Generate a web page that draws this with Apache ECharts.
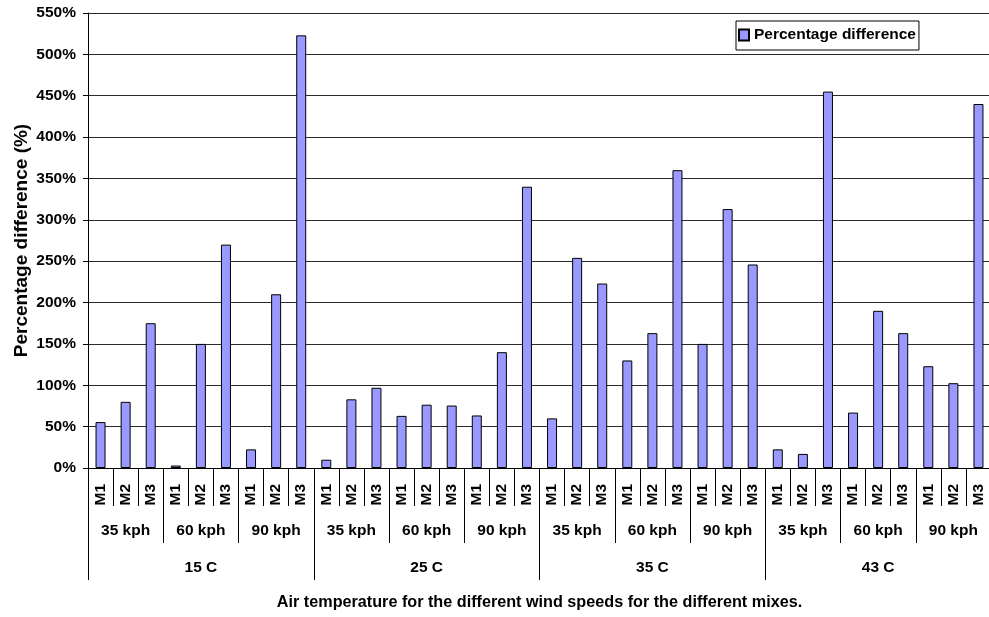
<!DOCTYPE html>
<html>
<head>
<meta charset="utf-8">
<script src="https://cdn.jsdelivr.net/npm/echarts@6/dist/echarts.min.js"></script>
<style>
  html, body { margin: 0; padding: 0; background: #fff; }
  #chart { width: 989px; height: 617px; }
</style>
</head>
<body>
<div id="chart"></div>
<script>
// Percentage difference per mix, grouped by wind speed and air temperature
const temperatures = ['15 C', '25 C', '35 C', '43 C'];
const windSpeeds = ['35 kph', '60 kph', '90 kph'];
const mixes = ['M1', 'M2', 'M3'];
const yTicks = [0, 50, 100, 150, 200, 250, 300, 350, 400, 450, 500, 550];

// order: temperature -> wind speed -> mix
const percentDiff = [
  55.5, 80, 175,   3, 150, 270,   22.5, 210, 523,
  10, 83, 97,      63, 76.5, 75.5, 63.5, 140, 340,
  60, 254, 223,    130, 163, 360, 150, 313, 246,
  22.5, 17, 455,   67, 190, 163,  123, 102.5, 440
];

const seriesName = 'Percentage difference';
const xTitle = 'Air temperature for the different wind speeds for the different mixes.';
const yTitle = 'Percentage difference (%)';

// category lists for the three label rows
const mixCats = [];
const speedCats = [];
temperatures.forEach(t => {
  windSpeeds.forEach(w => {
    speedCats.push(w);
    mixes.forEach(m => mixCats.push(m));
  });
});

const FONT = 'Liberation Sans, Arial, sans-serif';
const labelStyle = { fontFamily: FONT, fontWeight: 'bold', fontSize: 15.5, color: '#000' };

const chart = echarts.init(document.getElementById('chart'), null, { renderer: 'canvas' });

chart.setOption({
  animation: false,
  backgroundColor: '#fff',
  grid: {
    left: 88, top: 13, width: 903, height: 455,
    containLabel: false, outerBoundsMode: 'none'
  },
  legend: {
    data: [seriesName],
    left: 736, top: 21,
    padding: [6, 3, 7, 2],
    itemWidth: 10, itemHeight: 11, itemGap: 0, itemTextGap: 5,
    backgroundColor: '#fff',
    borderColor: '#000', borderWidth: 1, borderRadius: 0,
    icon: 'rect',
    textStyle: { fontFamily: FONT, fontWeight: 'bold', fontSize: 15.5, color: '#000' }
  },
  xAxis: [
    {
      type: 'category',
      data: mixCats,
      position: 'bottom',
      boundaryGap: true,
      axisLine: { show: true, lineStyle: { color: '#000', width: 1 } },
      axisTick: { show: true, interval: 0, length: 38, lineStyle: { color: '#000', width: 1 } },
      axisLabel: Object.assign({ interval: 0, rotate: 90, margin: 16 }, labelStyle),
      splitLine: { show: false }
    },
    {
      type: 'category',
      data: speedCats,
      position: 'bottom',
      boundaryGap: true,
      axisLine: { show: false },
      axisTick: { show: true, interval: 0, length: 75, lineStyle: { color: '#000', width: 1 } },
      axisLabel: Object.assign({ interval: 0, margin: 55 }, labelStyle),
      splitLine: { show: false }
    },
    {
      type: 'category',
      data: temperatures,
      position: 'bottom',
      boundaryGap: true,
      axisLine: { show: false },
      axisTick: { show: true, interval: 0, length: 112, lineStyle: { color: '#000', width: 1 } },
      axisLabel: Object.assign({ interval: 0, margin: 92 }, labelStyle),
      splitLine: { show: false },
      name: xTitle,
      nameLocation: 'middle',
      nameGap: 127,
      nameMoveOverlap: false,
      nameTextStyle: { fontFamily: FONT, fontWeight: 'bold', fontSize: 16.2, color: '#000' }
    }
  ],
  yAxis: {
    type: 'value',
    min: yTicks[0],
    max: yTicks[yTicks.length - 1],
    interval: yTicks[1] - yTicks[0],
    axisLine: { show: true, lineStyle: { color: '#000', width: 1 } },
    axisTick: { show: true, length: 5, lineStyle: { color: '#000' } },
    axisLabel: Object.assign({ margin: 12, formatter: '{value}%' }, labelStyle),
    splitLine: { show: true, lineStyle: { color: '#2a2a2a', width: 1 } },
    name: yTitle,
    nameLocation: 'middle',
    nameRotate: 90,
    nameGap: 57,
    nameMoveOverlap: false,
    nameTextStyle: { fontFamily: FONT, fontWeight: 'bold', fontSize: 19, color: '#000' }
  },
  series: [
    {
      name: seriesName,
      type: 'bar',
      xAxisIndex: 0,
      data: percentDiff,
      barWidth: 10,
      itemStyle: { color: '#9999FF', borderColor: '#000', borderWidth: 1 }
    }
  ]
});
</script>
</body>
</html>
